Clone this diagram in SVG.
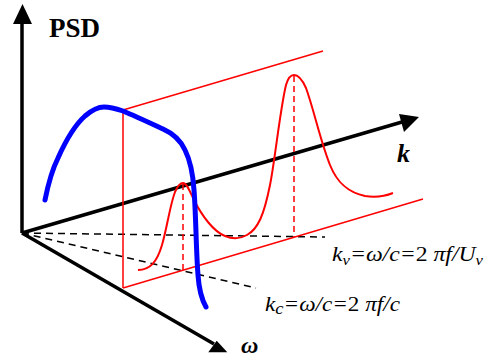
<svg xmlns="http://www.w3.org/2000/svg" width="487" height="362" viewBox="0 0 487 362">
<style>
.axis{stroke:#000;stroke-width:3.5;fill:none}
.head{fill:#000}
.red{stroke:#f00;stroke-width:1.5;fill:none}
.redc{stroke:#f00;stroke-width:2;fill:none}
.rdash{stroke:#f00;stroke-width:1.5;stroke-dasharray:6 4;fill:none}
.kdash{stroke:#000;stroke-width:1.5;stroke-dasharray:7 5;fill:none}
.blue{stroke:#00f;stroke-width:5;fill:none;stroke-linecap:round}
.lbl{font-family:"Liberation Serif",serif;fill:#000}
.f{font-family:"Liberation Serif",serif;font-style:italic;font-size:20px;fill:#000}
</style>
<rect width="487" height="362" fill="#fff"/>
<g id="connectors">
<line class="axis" x1="22" y1="233" x2="22" y2="20"/>
<polygon class="head" points="22.5,4 13,24 32,24"/>
<line class="axis" x1="22" y1="233" x2="402" y2="122"/>
<polygon class="head" points="419,117 399,114 404,132"/>
<line class="axis" x1="22" y1="233" x2="214" y2="344"/>
<polygon class="head" points="227.3,352.3 208.3,352.3 216.7,340.7"/>
<line class="kdash" x1="22" y1="233" x2="325" y2="237"/>
<line class="kdash" x1="22" y1="233" x2="256" y2="288"/>
</g>
<g id="plane">
<line class="red" x1="123" y1="110" x2="323" y2="51"/>
<line class="red" x1="123" y1="288" x2="423" y2="199"/>
<line class="red" x1="123" y1="110" x2="123" y2="288"/>
<line class="rdash" x1="183" y1="184" x2="183" y2="270"/>
<line class="rdash" x1="294" y1="76" x2="294" y2="237"/>
</g>
<g id="red-curve">
<path class="redc" d="M138,270 C150,270 157,262 162,245 C167,228 170,205 175,192 C178,185 181,183 183,183 C187,183 190,192 194,200 C202,216 214,232 225,236 C232,239 240,239 247,235 C258,229 264,215 270,185 C275,160 280,110 286,85 C288,78 291,75 294,75 C298,75 302,79 306,88 C314,110 320,140 330,165 C338,185 350,193 365,196 C378,198 388,195 393,193"/>
</g>
<g id="blue-curve">
<path class="blue" d="M45,200 C48,185 52,170 58,158 C66,140 75,125 85,116 C92,110 98,107 104,107 C110,107 117,109 123,111 C135,116 150,123 163,129 C172,133 180,139 185,150 C191,162 193,175 194,190 C196,215 196,250 198,275 C199,290 202,300 206,307"/>
</g>
<g id="labels">
<text class="lbl" x="49" y="37" font-size="27" font-weight="bold">PSD</text>
<text class="lbl" x="397" y="162" font-size="26" font-weight="bold" font-style="italic">k</text>
<text class="lbl" x="241" y="353" font-size="24" font-weight="bold" font-style="italic">ω</text>
<text class="f" x="332" y="261" textLength="151" lengthAdjust="spacingAndGlyphs">k<tspan dy="4" font-size="14">v</tspan><tspan dy="-4">=ω/c=</tspan><tspan font-style="normal">2 </tspan><tspan>πf/U</tspan><tspan dy="4" font-size="14">v</tspan></text>
<text class="f" x="265" y="311" textLength="135" lengthAdjust="spacingAndGlyphs">k<tspan dy="3" font-size="16">c</tspan><tspan dy="-3">=ω/c=</tspan><tspan font-style="normal">2 </tspan><tspan>πf/c</tspan></text>
</g>
</svg>
